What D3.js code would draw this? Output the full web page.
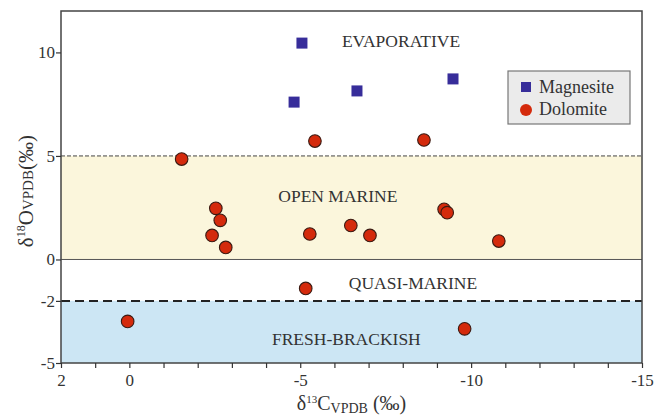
<!DOCTYPE html>
<html>
<head>
<meta charset="utf-8">
<script src="https://cdn.jsdelivr.net/npm/d3@7"></script>
<style>
  body { margin: 0; background: #fff; }
  svg, svg text { font-family: "Liberation Serif", "Times New Roman", serif !important; }
  text { fill: #333; }
</style>
</head>
<body>
<script>
// magnesite (blue squares)
const magnesiteC = [-5.05, -4.82, -6.66, -9.47];
const magnesiteO = [10.45, 7.6, 8.14, 8.72];

// dolomite (red circles)
const dolomiteC = [-1.53, -5.43, -8.62, -2.53, -2.66, -2.42, -2.82, -5.28, -6.48, -7.04, -9.21, -9.30, -10.81, -5.16, 0.05, -9.81];
const dolomiteO = [4.85, 5.72, 5.77, 2.47, 1.89, 1.16, 0.58, 1.23, 1.64, 1.16, 2.42, 2.26, 0.89, -1.4, -2.99, -3.35];

const xTicks = d3.range(2, -16, -1);
const xLabels = [2, 0, -5, -10, -15];
const yTicks = [10, 5, 0, -2, -5];

const zones = [
    { name: "EVAPORATIVE", c: -7.95, o: 10.55 },
    { name: "OPEN MARINE", c: -6.1, o: 3.05 },
    { name: "QUASI-MARINE", c: -8.3, o: -1.15 },
    { name: "FRESH-BRACKISH", c: -6.35, o: -3.85 }
];

const margin = { top: 11, right: 24, bottom: 53, left: 61 };
const W = 666, H = 416;
const w = W - margin.left - margin.right;
const h = H - margin.top - margin.bottom;

const svg = d3.select("body").append("svg")
    .attr("width", W)
    .attr("height", H);

const g = svg.append("g")
    .attr("transform", `translate(${margin.left},${margin.top})`);

const x = d3.scaleLinear().domain([2, -15]).range([0, w]);
const y = d3.scaleLinear().domain([-5, 12]).range([h, 0]);

// bands
g.append("rect")
    .attr("x", 0).attr("width", w)
    .attr("y", y(5)).attr("height", y(0) - y(5))
    .style("fill", "#fbf6dc");
g.append("rect")
    .attr("x", 0).attr("width", w)
    .attr("y", y(-2)).attr("height", y(-5) - y(-2))
    .style("fill", "#cce6f4");

g.append("line")
    .attr("x1", 0).attr("x2", w)
    .attr("y1", y(0)).attr("y2", y(0))
    .style("stroke", "#555").style("stroke-width", 1);
g.append("line")
    .attr("x1", 0).attr("x2", w)
    .attr("y1", y(5)).attr("y2", y(5))
    .style("stroke", "#444").style("stroke-width", 1)
    .style("stroke-dasharray", "4,2");
g.append("line")
    .attr("x1", 0).attr("x2", w)
    .attr("y1", y(-2)).attr("y2", y(-2))
    .style("stroke", "#222").style("stroke-width", 2)
    .style("stroke-dasharray", "9,5");

// frame
g.append("rect")
    .attr("width", w).attr("height", h)
    .style("fill", "none")
    .style("stroke", "#444")
    .style("stroke-width", 1.5);

// axes
const xAxis = d3.axisBottom(x)
    .tickValues(xTicks)
    .tickSize(5)
    .tickPadding(6)
    .tickFormat(d => xLabels.includes(d) ? String(d) : "");
const yAxis = d3.axisLeft(y)
    .tickValues(yTicks)
    .tickSize(5)
    .tickPadding(1)
    .tickFormat(d => String(d));

const gx = g.append("g").attr("transform", `translate(0,${h})`).call(xAxis);
const gy = g.append("g").call(yAxis);
[gx, gy].forEach(a => {
    a.attr("font-family", null).attr("font-size", null);
    a.select(".domain").remove();
    a.selectAll(".tick line").style("stroke", "#333").style("stroke-width", 1.2);
    a.selectAll(".tick text")
        .style("font-size", "17px")
        .style("fill", "#333");
});

// zone labels
g.selectAll(".zone")
    .data(zones)
    .enter().append("text")
    .attr("class", "zone")
    .attr("x", d => x(d.c))
    .attr("y", d => y(d.o))
    .attr("text-anchor", "middle")
    .attr("dy", "0.35em")
    .style("font-size", "17.5px")
    .text(d => d.name);

// points
const mag = magnesiteC.map((c, i) => ({ c, o: magnesiteO[i] }));
const dol = dolomiteC.map((c, i) => ({ c, o: dolomiteO[i] }));

g.selectAll(".mag")
    .data(mag)
    .enter().append("rect")
    .attr("class", "mag")
    .attr("x", d => x(d.c) - 5.5)
    .attr("y", d => y(d.o) - 5.5)
    .attr("width", 11).attr("height", 11)
    .style("fill", "#372d9a");

g.selectAll(".dol")
    .data(dol)
    .enter().append("circle")
    .attr("class", "dol")
    .attr("cx", d => x(d.c))
    .attr("cy", d => y(d.o))
    .attr("r", 6.3)
    .style("fill", "#d42a0c")
    .style("stroke", "#3a1a12")
    .style("stroke-width", 1.1);

// legend
const legend = svg.append("g").attr("transform", "translate(508,71)");
legend.append("rect")
    .attr("width", 122).attr("height", 53)
    .style("fill", "#ebebeb")
    .style("stroke", "#777")
    .style("stroke-width", 1.2);
legend.append("rect")
    .attr("x", 13).attr("y", 11).attr("width", 10).attr("height", 10)
    .style("fill", "#372d9a");
legend.append("circle")
    .attr("cx", 18).attr("cy", 39).attr("r", 6)
    .style("fill", "#d42a0c");
legend.append("text")
    .attr("x", 31).attr("y", 16).attr("dy", "0.35em")
    .style("font-size", "18px")
    .text("Magnesite");
legend.append("text")
    .attr("x", 31).attr("y", 38).attr("dy", "0.35em")
    .style("font-size", "18px")
    .text("Dolomite");

// axis titles
const xt = svg.append("text")
    .attr("x", margin.left + w / 2)
    .attr("y", 410)
    .attr("text-anchor", "middle")
    .style("font-size", "20px");
xt.append("tspan").text("\u03b4");
xt.append("tspan").attr("dy", -7).style("font-size", "11px").text("13");
xt.append("tspan").attr("dy", 7).text("C");
xt.append("tspan").attr("dy", 3).style("font-size", "14px").text("VPDB");
xt.append("tspan").attr("dy", -3).text(" (\u2030)");

const yt = svg.append("text")
    .attr("transform", `translate(33,${margin.top + y(3.3)}) rotate(-90)`)
    .attr("text-anchor", "middle")
    .style("font-size", "21px");
yt.append("tspan").text("\u03b4");
yt.append("tspan").attr("dy", -8).style("font-size", "12px").text("18");
yt.append("tspan").attr("dy", 8).text("O");
yt.append("tspan").style("font-size", "15px").text("VPDB");
yt.append("tspan").text("(\u2030)");
</script>
</body>
</html>
